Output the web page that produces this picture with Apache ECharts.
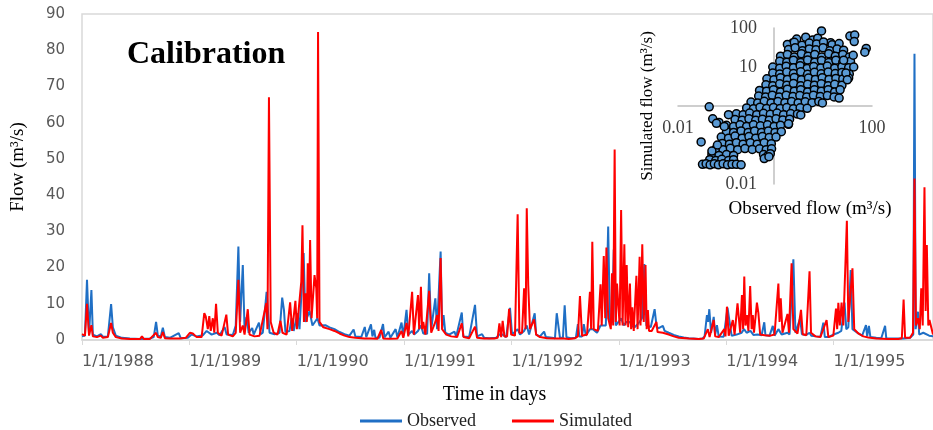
<!DOCTYPE html>
<html>
<head>
<meta charset="utf-8">
<title>Calibration</title>
<style>
  html, body { margin: 0; padding: 0; background: #fff; }
  #main { width: 933px; height: 430px; }
</style>
</head>
<body>
<div id="main"></div>
<script src="https://cdn.jsdelivr.net/npm/echarts@6/dist/echarts.min.js"></script>
<script type="text/javascript">
// tick labels, one per year (axis counts days from 1/1/1988)
var yearLabels = ['1/1/1988', '1/1/1989', '1/1/1990', '1/1/1991', '1/1/1992', '1/1/1993', '1/1/1994', '1/1/1995'];
// labels shown on the inset's observed-flow axis
var insetXLabels = ['0.01', '1', '100'];

// observed flow: [day since 1/1/1988, m3/s]
var obsFlow = [
  [0,1.0],[10,1.2],[17,16.6],[24,1.5],[32,13.8],[37,1.5],[51,1.0],[64,1.6],[71,0.9],[88,1.0],[99,9.9],[105,3.5],[115,1.2],
  [136,0.6],[163,0.4],[197,0.3],[231,0.4],[244,0.8],[252,5.0],[258,1.2],[268,1.0],[275,3.4],[282,0.8],[299,0.6],[329,1.9],
  [336,0.5],[360,0.6],[373,1.5],[390,1.0],[411,1.3],[424,2.5],[441,1.5],[458,2.0],[468,1.3],[485,3.6],[492,1.5],[513,1.4],
  [523,4.0],[532,25.8],[538,5.0],[547,20.7],[553,3.0],[560,6.3],[567,2.0],[579,3.3],[584,1.5],[602,4.8],[608,1.6],[615,2.0],
  [628,13.3],[638,2.0],[655,1.6],[672,2.0],[681,11.7],[687,8.3],[692,2.2],[706,2.5],[713,6.0],[720,2.5],[733,7.4],[740,3.0],
  [754,24],[760,5],[774,8],[784,4],[801,6],[808,4],[828,4.1],[842,3.5],[859,3.0],[876,2.2],[893,1.6],[910,1.2],[924,2.9],
  [930,1.0],[950,0.8],[962,3.6],[967,0.8],[983,4.3],[988,1.0],[994,2.8],[998,0.7],[1012,0.6],[1024,4.4],[1029,0.7],
  [1043,2.3],[1049,0.6],[1067,3.0],[1073,0.7],[1087,4.8],[1093,1.0],[1104,8.3],[1110,1.5],[1123,2.5],[1130,1.5],[1143,2.5],
  [1153,4.0],[1161,1.8],[1174,1.7],[1181,18.4],[1188,3.0],[1202,11.5],[1208,3.0],[1220,24.4],[1225,3.0],[1230,6.9],
  [1236,2.0],[1249,1.5],[1267,2.3],[1273,1.0],[1292,7.6],[1297,1.0],[1317,0.8],[1337,9.7],[1344,1.0],[1361,1.6],[1368,0.6],
  [1385,0.5],[1409,0.6],[1420,1.5],[1431,1.5],[1443,0.8],[1456,8.9],[1463,1.5],[1482,3.0],[1490,1.5],[1504,2.5],[1513,4.0],
  [1521,1.5],[1540,7.4],[1545,1.5],[1558,1.0],[1572,2.3],[1578,0.8],[1599,0.6],[1609,0.5],[1615,7.4],[1620,7.4],[1626,0.6],
  [1636,0.6],[1642,9.6],[1648,0.8],[1663,0.5],[1680,0.6],[1687,4.4],[1692,1.0],[1701,1.0],[1707,4.4],[1714,1.2],[1728,3.0],
  [1738,3.0],[1752,2.0],[1764,4.0],[1775,4.0],[1782,4.0],[1790,31.3],[1796,4.0],[1803,5.0],[1809,25],[1816,4.0],[1825,5.0],
  [1834,6.0],[1843,4.0],[1852,5.0],[1864,5.0],[1870,3.8],[1881,3.6],[1897,5.0],[1905,6.0],[1913,21],[1920,4.0],[1925,4.0],
  [1935,3.6],[1948,8.5],[1955,3.5],[1962,3.3],[1976,3.9],[1982,2.5],[1996,2.0],[2013,1.4],[2030,1.0],[2047,0.7],[2064,0.5],
  [2081,0.4],[2098,0.3],[2111,0.4],[2118,1.0],[2126,6.9],[2130,5.0],[2134,8.5],[2140,2.0],[2149,6.4],[2154,1.5],[2160,4.1],
  [2166,1.0],[2183,0.9],[2196,8.9],[2203,5.0],[2210,1.2],[2227,1.5],[2244,2.0],[2252,3.0],[2261,2.0],[2274,2.5],[2284,1.4],
  [2298,1.5],[2312,1.3],[2321,4.9],[2325,1.3],[2339,1.2],[2350,3.9],[2356,1.2],[2369,3.0],[2380,1.5],[2400,2.0],[2407,1.5],
  [2420,22.3],[2427,2.0],[2443,6.0],[2449,1.6],[2464,1.4],[2475,2.0],[2481,1.2],[2498,1.0],[2512,0.9],[2522,4.8],[2527,0.8],
  [2539,0.8],[2559,1.6],[2573,2.0],[2583,2.5],[2594,10.3],[2600,3.0],[2607,3.5],[2615,19.3],[2621,3.0],[2627,2.5],[2641,1.8],
  [2654,1.2],[2667,4.1],[2671,1.0],[2677,3.9],[2682,0.8],[2702,0.6],[2719,0.5],[2732,3.9],[2736,0.5],[2760,0.4],[2794,0.4],
  [2817,0.6],[2828,1.5],[2832,79],[2836,3.0],[2844,7.8],[2848,1.5],[2862,2.0],[2882,1.2],[2895,1.0]
];

// simulated flow: [day since 1/1/1988, m3/s]
var simFlow = [
  [0,1.6],[10,1.2],[17,10],[24,1.2],[32,4.1],[37,1.0],[51,0.8],[64,1.2],[71,0.6],[88,0.8],[99,4.7],[105,2.0],[115,0.8],
  [136,0.4],[163,0.3],[197,0.25],[204,1.0],[210,0.3],[231,0.3],[252,2.0],[258,0.8],[268,0.6],[275,2.2],[282,0.5],[299,0.4],
  [333,0.4],[353,0.6],[367,2.0],[377,1.8],[390,0.8],[407,0.8],[416,7.4],[421,6.5],[428,3.0],[433,6.6],[438,2.5],[445,6.0],
  [450,2.0],[456,10],[462,2.0],[475,1.2],[491,7.0],[497,1.5],[513,1.0],[523,2.0],[532,16.6],[538,2.0],[547,4.0],[553,1.5],
  [564,8.5],[570,1.5],[587,1.0],[604,1.2],[627,10.2],[631,3.0],[636,67],[642,5.0],[652,2.0],[665,1.5],[675,5.3],[682,2.0],
  [696,1.5],[708,10.4],[715,2.5],[726,10.8],[731,3.0],[746,16.1],[750,31.7],[755,5.0],[760,12.9],[765,5.0],[768,21.2],
  [772,8.0],[776,27.6],[781,6.0],[791,17.9],[797,14.3],[800,6.0],[803,85],[808,5.0],[821,3.5],[842,3.0],[859,2.5],[876,1.8],
  [893,1.2],[910,0.8],[930,0.6],[961,0.4],[984,0.4],[1005,0.35],[1018,2.8],[1025,0.4],[1045,0.35],[1073,0.4],[1087,2.5],
  [1093,0.6],[1104,4.7],[1110,1.0],[1123,13.3],[1129,1.5],[1143,12.4],[1147,3.0],[1153,14.7],[1157,3.0],[1161,5.0],
  [1168,1.5],[1181,13.6],[1188,2.0],[1202,5.0],[1208,6.9],[1213,2.5],[1220,22.6],[1225,3.0],[1239,1.5],[1256,1.0],[1276,0.8],
  [1292,4.6],[1298,0.8],[1317,0.5],[1337,3.7],[1344,0.6],[1368,0.4],[1402,0.4],[1414,0.6],[1420,4.6],[1426,0.8],[1431,5.3],
  [1437,1.0],[1446,1.0],[1453,8.6],[1460,1.5],[1473,1.2],[1482,34.7],[1488,2.0],[1497,2.0],[1504,14.3],[1509,3.0],[1513,36.4],
  [1518,15.2],[1524,3.0],[1538,5.7],[1545,1.5],[1558,0.8],[1582,0.5],[1616,0.4],[1640,0.4],[1656,0.3],[1677,0.5],[1687,1.0],
  [1694,12.1],[1701,1.2],[1718,1.5],[1728,13.3],[1732,3.0],[1736,27.1],[1741,3.0],[1755,2.5],[1764,15.4],[1768,4.0],
  [1775,23.2],[1780,6.0],[1784,25.5],[1790,6.0],[1796,6.0],[1799,3.0],[1803,18.4],[1807,4.0],[1812,52.6],[1816,5.0],
  [1820,15.6],[1825,15.6],[1829,4.0],[1834,35.9],[1839,4.0],[1845,26.4],[1849,4.0],[1853,20.7],[1858,3.5],[1864,15.6],
  [1868,3.0],[1872,9.0],[1877,2.5],[1886,17.7],[1890,3.0],[1897,23],[1900,4.0],[1906,26.4],[1911,5.0],[1917,20.7],[1921,3.0],
  [1925,8.3],[1929,2.5],[1938,2.5],[1954,5.0],[1958,2.2],[1976,2.0],[1996,1.5],[2013,1.0],[2030,0.6],[2064,0.4],[2098,0.3],
  [2115,0.4],[2129,3.0],[2135,0.8],[2149,5.5],[2154,1.0],[2166,0.8],[2185,3.0],[2189,1.0],[2194,9.2],[2200,1.2],[2214,5.5],
  [2220,1.5],[2230,10.1],[2239,2.0],[2245,12.4],[2249,3.0],[2253,17.5],[2257,4.0],[2262,6.9],[2267,2.5],[2273,14.9],
  [2278,3.0],[2282,6.9],[2286,2.0],[2296,10.3],[2301,7.4],[2307,1.5],[2322,1.3],[2342,1.2],[2356,1.5],[2369,15.6],[2373,5.0],
  [2377,11.5],[2383,2.0],[2400,7.2],[2405,2.0],[2414,21.2],[2420,3.0],[2434,1.8],[2446,8.3],[2452,1.6],[2464,1.3],[2475,19],
  [2480,2.0],[2495,1.0],[2512,0.8],[2533,5.5],[2539,0.8],[2556,1.2],[2565,8.7],[2569,3.0],[2573,10.3],[2578,4.0],[2584,10.3],
  [2590,4.0],[2602,32.9],[2607,5.0],[2621,19.8],[2627,3.0],[2641,1.8],[2658,1.0],[2675,0.7],[2702,0.4],[2743,0.3],[2777,0.3],
  [2789,0.5],[2795,11.2],[2800,0.6],[2817,0.6],[2827,2.0],[2832,44.6],[2837,4.0],[2844,6.0],[2850,3.0],[2855,14.3],[2860,4.0],
  [2866,42.2],[2870,8.0],[2874,26.2],[2879,4.0],[2883,5.5],[2895,1.5]
];

// inset: [observed, simulated] daily pairs
var scatterPairs = [
  [2.8,52],[4.3,58],[6,49],[2.3,41],[7.6,55],[14,42],[20,35],
  [1.8,38],[2.5,43],[3.6,36],[5.1,41],[7.2,39],[10,44],[15,37],[21,40],
  [1.9,28],[2.6,31],[3.7,26],[5.1,29],[7,27.5],[9.8,31],[13.5,26],[19,29],[26,27],
  [1.3,19],[1.8,21],[2.5,18],[3.5,22],[4.8,19],[6.6,21],[9.2,18],[12.8,22],[17.5,19],[25,21],[34,18],
  [1.25,14],[1.75,13.2],[2.4,15],[3.4,13],[4.7,15.2],[6.6,13.3],[9.1,14.6],[12.8,13],[18,15],[25,13.4],[36,14],
  [0.9,10],[1.25,9.3],[1.7,10.5],[2.4,9.5],[3.3,10.8],[4.6,9.2],[6.3,10.3],[8.8,9.4],[12,10.6],[17,9.3],[24,10.2],[33,9.6],
  [0.9,7],[1.25,6.6],[1.75,7.4],[2.4,6.8],[3.4,7.5],[4.7,6.5],[6.5,7.3],[9,6.7],[12.5,7.4],[17.5,6.8],[24,7.2],[34,6.6],
  [0.68,5],[0.95,4.7],[1.3,5.3],[1.8,4.8],[2.5,5.4],[3.5,4.7],[4.9,5.2],[6.8,4.8],[9.4,5.3],[13,4.8],[18,5.1],[25,4.9],[33,5.2],
  [0.65,3.5],[0.9,3.3],[1.25,3.7],[1.75,3.4],[2.4,3.8],[3.4,3.3],[4.7,3.6],[6.5,3.4],[9,3.7],[12.5,3.3],[17,3.6],[24,3.4],
  [0.48,2.5],[0.67,2.4],[0.93,2.6],[1.3,2.3],[1.8,2.7],[2.5,2.4],[3.4,2.6],[4.7,2.3],[6.5,2.6],[9,2.4],[12.5,2.6],[17,2.3],[22,2.6],
  [0.46,1.8],[0.64,1.7],[0.88,1.9],[1.22,1.7],[1.7,1.9],[2.35,1.75],[3.25,1.85],[4.5,1.7],[6.2,1.9],[8.6,1.75],[12,1.85],[16.5,1.7],
  [0.32,1.26],[0.44,1.2],[0.6,1.32],[0.83,1.2],[1.15,1.3],[1.6,1.22],[2.2,1.3],[3,1.2],[4.2,1.28],[5.8,1.22],[8,1.3],
  [0.26,0.89],[0.36,0.85],[0.49,0.93],[0.67,0.86],[0.93,0.92],[1.28,0.86],[1.75,0.91],[2.4,0.85],[3.3,0.9],[4.6,0.87],
  [0.16,0.63],[0.22,0.6],[0.3,0.66],[0.42,0.6],[0.58,0.65],[0.8,0.61],[1.1,0.66],[1.5,0.6],[2.1,0.64],[2.9,0.62],
  [0.15,0.45],[0.21,0.43],[0.29,0.47],[0.4,0.43],[0.55,0.46],[0.76,0.43],[1.05,0.47],[1.45,0.44],[2,0.46],
  [0.1,0.32],[0.14,0.3],[0.19,0.33],[0.26,0.3],[0.36,0.33],[0.5,0.31],[0.7,0.33],[0.96,0.3],[1.3,0.32],[1.9,0.34],
  [0.1,0.22],[0.14,0.21],[0.2,0.23],[0.28,0.21],[0.38,0.23],[0.53,0.21],[0.73,0.23],[1.0,0.21],[1.35,0.22],
  [0.078,0.16],[0.11,0.15],[0.15,0.17],[0.21,0.15],[0.29,0.165],[0.4,0.15],[0.55,0.165],[0.76,0.155],[1.05,0.16],
  [0.082,0.11],[0.115,0.105],[0.16,0.115],[0.22,0.105],[0.31,0.115],[0.43,0.105],[0.6,0.115],[0.84,0.108],
  [0.06,0.079],[0.085,0.075],[0.12,0.082],[0.17,0.076],[0.24,0.081],[0.34,0.077],[0.48,0.08],[0.66,0.076],[0.85,0.08],
  [0.05,0.058],[0.07,0.054],[0.1,0.057],[0.14,0.054],[0.58,0.057],[0.7,0.052],[0.8,0.06],
  [0.045,0.042],[0.06,0.04],[0.08,0.043],[0.11,0.04],[0.14,0.042],
  [0.032,0.032],[0.038,0.033],[0.046,0.031],[0.056,0.033],[0.068,0.031],[0.085,0.033],[0.105,0.031],[0.13,0.032],[0.16,0.032],[0.2,0.031],
  [9.1,84],[35,62],[44,66],[43,45],[76,30],[71,24],[41,20],[26,15],[42,10],[29,7],[31,4.7],[21,1.6],[9.5,1.2],[3.4,0.59],
  [1.9,0.35],[0.044,0.95],[0.052,0.47],[0.07,0.38],[0.062,0.36],[0.11,0.6],[0.09,0.3],[0.03,0.12],[0.05,0.07],[0.065,0.1],
  [0.6,0.045],[0.75,0.05]
];

var serif = '"Liberation Serif", "Times New Roman", serif';
var sans = '"DejaVu Sans", sans-serif';

var myChart = echarts.init(document.getElementById('main'));

option = {
    animation: false,
    title: {
        text: 'Calibration',
        left: 127,
        top: 39,
        padding: 0,
        textStyle: { fontFamily: serif, fontSize: 32, fontWeight: 'bold', color: '#000' }
    },
    legend: {
        data: ['Observed', 'Simulated'],
        left: 355,
        top: 407,
        icon: 'rect',
        itemWidth: 42,
        itemHeight: 3,
        itemGap: 36,
        textStyle: { fontFamily: serif, fontSize: 18, color: '#222' }
    },
    grid: [
        { left: 82, top: 14, right: -2, bottom: 90, show: true, borderColor: '#d9d9d9', borderWidth: 1.5 },
        { left: 678, top: 28, width: 194, height: 156 }
    ],
    xAxis: [
        {
            type: 'value', gridIndex: 0, min: 0, max: 2895, interval: 365.25,
            name: 'Time in days', nameLocation: 'middle', nameGap: 45,
            nameTextStyle: { fontFamily: serif, fontSize: 20, color: '#000', padding: [0, 26, 0, 0] },
            axisLine: { show: true, lineStyle: { color: '#d9d9d9', width: 1.5 } },
            axisTick: { show: true, length: 5, lineStyle: { color: '#d9d9d9' } },
            splitLine: { show: false },
            axisLabel: {
                align: 'left', margin: 14, showMaxLabel: false,
                color: '#595959', fontFamily: sans, fontSize: 16,
                formatter: function (v) {
                    var k = Math.round(v / 365.25);
                    return (Math.abs(v / 365.25 - k) < 0.01 && yearLabels[k]) ? yearLabels[k] : '';
                }
            }
        },
        {
            type: 'log', logBase: 10, gridIndex: 1, min: 0.01, max: 100, offset: -78,
            name: 'Observed flow (m³/s)', nameLocation: 'middle', nameGap: 94,
            nameTextStyle: { fontFamily: serif, fontSize: 19, color: '#000', padding: [0, 0, 0, 70] },
            axisLine: { show: true, onZero: false, lineStyle: { color: '#bfbfbf', width: 1.5 } },
            axisTick: { show: false },
            splitLine: { show: false },
            axisLabel: {
                margin: 13, color: '#404040', fontFamily: serif, fontSize: 18,
                formatter: function (v) {
                    var p = Math.round(Math.log(v) / Math.LN10);
                    return (p % 2 === 0) ? insetXLabels[(p + 2) / 2] : '';
                }
            }
        }
    ],
    yAxis: [
        {
            type: 'value', gridIndex: 0, min: 0, max: 90, interval: 10,
            name: 'Flow (m³/s)', nameLocation: 'middle', nameGap: 54,
            nameTextStyle: { fontFamily: serif, fontSize: 19, color: '#000', padding: [0, 0, 0, 20] },
            axisLine: { show: false },
            axisTick: { show: false },
            splitLine: { show: false },
            axisLabel: { margin: 17, color: '#595959', fontFamily: sans, fontSize: 15 }
        },
        {
            type: 'log', logBase: 10, gridIndex: 1, min: 0.01, max: 100, offset: -96,
            name: 'Simulated flow (m³/s)', nameLocation: 'middle', nameGap: 118,
            nameTextStyle: { fontFamily: serif, fontSize: 17, color: '#000' },
            axisLine: { show: true, onZero: false, lineStyle: { color: '#bfbfbf', width: 1.5 } },
            axisTick: { show: false },
            splitLine: { show: false },
            axisLabel: { margin: 17, color: '#404040', fontFamily: serif, fontSize: 18 }
        }
    ],
    series: [
        {
            name: 'Observed', type: 'line', xAxisIndex: 0, yAxisIndex: 0,
            data: obsFlow, symbol: 'none', showSymbol: false,
            lineStyle: { color: '#1f6fc5', width: 2 }, itemStyle: { color: '#1f6fc5' }, z: 2
        },
        {
            name: 'Simulated', type: 'line', xAxisIndex: 0, yAxisIndex: 0,
            data: simFlow, symbol: 'none', showSymbol: false,
            lineStyle: { color: '#ff0000', width: 2 }, itemStyle: { color: '#ff0000' }, z: 3
        },
        {
            name: 'Observed vs simulated', type: 'scatter', xAxisIndex: 1, yAxisIndex: 1,
            data: scatterPairs, symbolSize: 8,
            itemStyle: { color: '#5b9bd5', borderColor: '#000', borderWidth: 1.5, opacity: 1 }, z: 4
        }
    ]
};

myChart.setOption(option);
</script>
</body>
</html>
